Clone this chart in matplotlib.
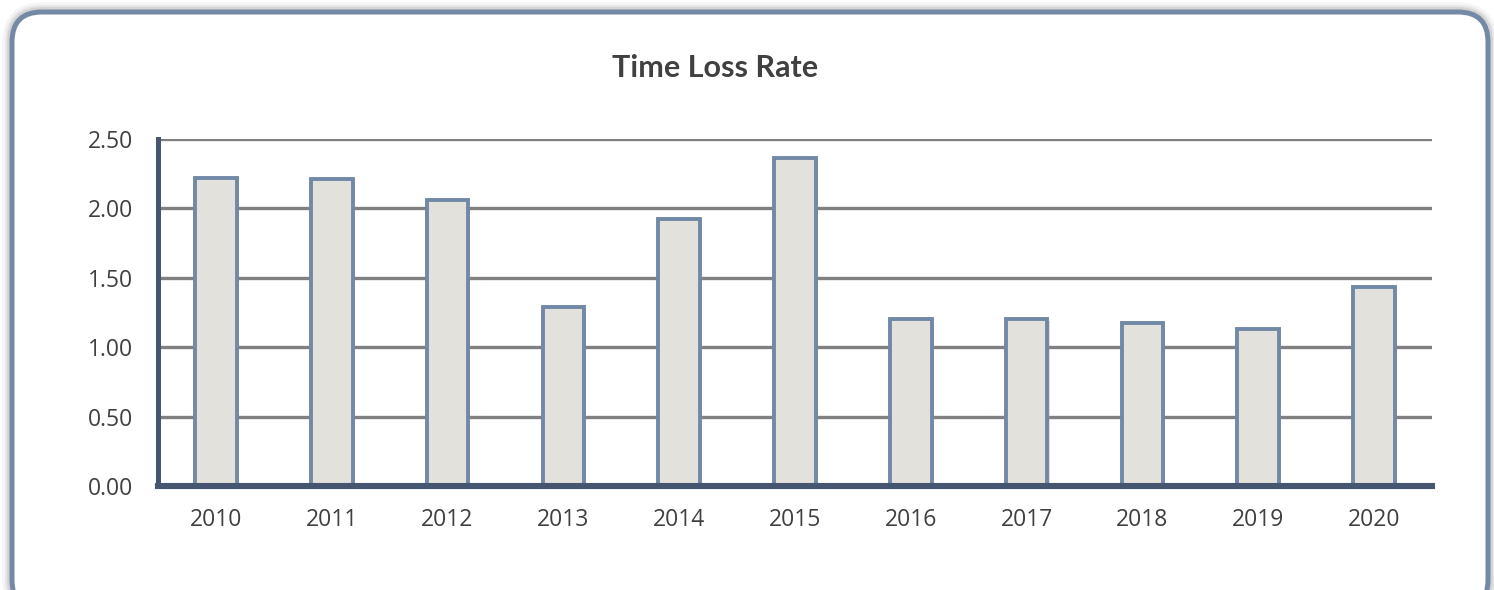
import matplotlib
matplotlib.use("Agg")
import matplotlib.pyplot as plt
from matplotlib.patches import FancyBboxPatch
from matplotlib.transforms import IdentityTransform
import matplotlib.patheffects as pe

years = ["2010", "2011", "2012", "2013", "2014", "2015", "2016", "2017", "2018", "2019", "2020"]
values = [2.22, 2.21, 2.06, 1.29, 1.92, 2.36, 1.20, 1.20, 1.17, 1.13, 1.43]
yticks = [0.0, 0.5, 1.0, 1.5, 2.0, 2.5]
title = "Time Loss Rate"

W, H = 1494, 590
fig = plt.figure(figsize=(W / 100, H / 100), dpi=100)
fig.patch.set_facecolor("white")

# rounded frame with soft shadow (pixel coordinates)
for i, (lw, a) in enumerate([(14, 0.04), (10, 0.06), (7, 0.08)]):
    sh = FancyBboxPatch((12, -20), 1476, 598, boxstyle="round,pad=0,rounding_size=30",
                        transform=IdentityTransform(), facecolor="none",
                        edgecolor="black", lw=lw, alpha=a, zorder=0)
    fig.patches.append(sh)
frame = FancyBboxPatch((12, -20), 1476, 598, boxstyle="round,pad=0,rounding_size=30",
                       transform=IdentityTransform(), facecolor="white",
                       edgecolor="#7389A6", lw=3.6, zorder=1)
fig.patches.append(frame)

ax = fig.add_axes([158 / W, (H - 486) / H, (1432 - 158) / W, (486 - 138.7) / H])
ax.set_facecolor("none")
ax.set_zorder(2)

x = list(range(len(years)))
bars = ax.bar(x, values, width=0.36, color="#E2E1DB", edgecolor="#7189A7",
              linewidth=2.8, zorder=3)
for b in bars:
    b.set_path_effects([pe.SimplePatchShadow(offset=(1.5, -1.5), shadow_rgbFace="#999999", alpha=0.35),
                        pe.Normal()])

ax.set_xlim(-0.5, len(years) - 0.5)
ax.set_ylim(0, 2.5)
ax.set_yticks(yticks)
ax.set_yticklabels([f"{v:.2f}" for v in yticks])
ax.set_xticks(x)
ax.set_xticklabels(years)

for v in yticks[1:]:
    ax.axhline(v, color="#808080", lw=2.4, zorder=2)

for s in ["top", "right"]:
    ax.spines[s].set_visible(False)
ax.spines["left"].set_color("#465670")
ax.spines["left"].set_linewidth(3.6)
ax.spines["bottom"].set_color("#465670")
ax.spines["bottom"].set_linewidth(4.4)
ax.spines["left"].set_zorder(5)
ax.spines["bottom"].set_zorder(5)

ax.tick_params(axis="both", length=0, labelcolor="#404040", labelsize=16.5)
ax.tick_params(axis="y", pad=18)
ax.tick_params(axis="x", pad=16)
for lab in ax.get_xticklabels() + ax.get_yticklabels():
    lab.set_fontfamily("Open Sans")

fig.text(715 / W, 1 - 68 / H, title, ha="center", va="center", fontsize=22,
         fontweight="bold", family="Lato", color="#404040", zorder=5)

fig.savefig("out.png", dpi=100, facecolor="white")
